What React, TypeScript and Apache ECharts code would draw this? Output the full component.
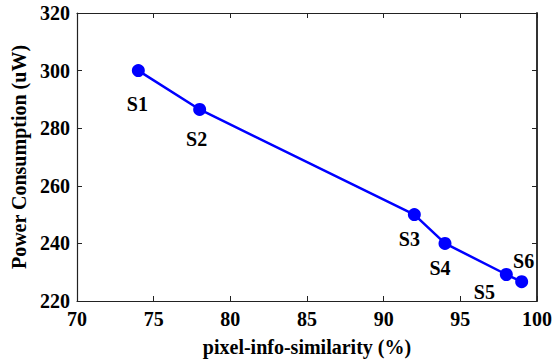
import React, { useEffect, useRef } from "react";
import * as echarts from "echarts";

const names = ["S1", "S2", "S3", "S4", "S5", "S6"];
const similarity = [74, 78, 92, 94, 98, 99];
const power = [300, 286.5, 250, 240, 229.2, 226.7];
const xTicks = { min: 70, max: 100, interval: 5 };
const yTicks = { min: 220, max: 320, interval: 20 };

const labelOffsets: [number, number][] = [
  [-1, 33],
  [-3, 30],
  [-5, 24],
  [-5, 25],
  [-22, 17],
  [2, -21],
];

const FONT = "Liberation Serif";
const FS = 20;

export default function App() {
  const ref = useRef<HTMLDivElement>(null);
  useEffect(() => {
    document.body.style.margin = "0";
    const chart = echarts.init(ref.current!, null, { renderer: "svg" });
    const axisLine = { show: true, lineStyle: { color: "#222", width: 1.2 } };
    const tickStyle = { show: true, inside: true, length: 5, lineStyle: { color: "#222" } };
    const textStyle = { fontFamily: FONT, fontWeight: "bold", fontSize: FS, color: "#000" };
    chart.setOption({
      animation: false,
      textStyle: { fontFamily: FONT, fontWeight: "bold", fontSize: FS, color: "#000" },
      grid: { left: 77, right: 22, top: 13, bottom: 58 },
      xAxis: [
        {
          type: "value",
          min: xTicks.min,
          max: xTicks.max,
          interval: xTicks.interval,
          axisLine,
          axisTick: tickStyle,
          splitLine: { show: false },
          axisLabel: {
            show: true,
            margin: 8,
            fontFamily: FONT,
            fontWeight: "bold",
            fontSize: FS,
            color: "#000",
          },
          name: "pixel-info-similarity (%)",
          nameLocation: "middle",
          nameGap: 36,
          nameTextStyle: textStyle,
        },
        {
          type: "value",
          position: "top",
          min: xTicks.min,
          max: xTicks.max,
          interval: xTicks.interval,
          axisLine,
          axisTick: tickStyle,
          splitLine: { show: false },
          axisLabel: { show: false },
        },
      ],
      yAxis: [
        {
          type: "value",
          min: yTicks.min,
          max: yTicks.max,
          interval: yTicks.interval,
          axisLine,
          axisTick: tickStyle,
          splitLine: { show: false },
          axisLabel: {
            show: true,
            margin: 7,
            fontFamily: FONT,
            fontWeight: "bold",
            fontSize: FS,
            color: "#000",
          },
          name: "Power Consumption (uW)",
          nameLocation: "middle",
          nameGap: 47,
          nameTextStyle: textStyle,
        },
        {
          type: "value",
          position: "right",
          min: yTicks.min,
          max: yTicks.max,
          interval: yTicks.interval,
          axisLine: { show: true, lineStyle: { color: "#333", width: 2 } },
          axisTick: tickStyle,
          splitLine: { show: false },
          axisLabel: { show: false },
        },
      ],
      series: [
        {
          type: "line",
          data: similarity.map((x, i) => ({
            value: [x, power[i]],
            name: names[i],
            label: { offset: labelOffsets[i] },
          })),
          lineStyle: { color: "#0000ff", width: 2.5 },
          itemStyle: { color: "#0000ff" },
          symbol: "circle",
          symbolSize: 13,
          label: {
            show: true,
            position: "inside",
            formatter: (p: any) => p.name,
            ...textStyle,
          },
        },
      ],
    });
    return () => chart.dispose();
  }, []);
  return <div ref={ref} style={{ width: 559, height: 362 }} />;
}
